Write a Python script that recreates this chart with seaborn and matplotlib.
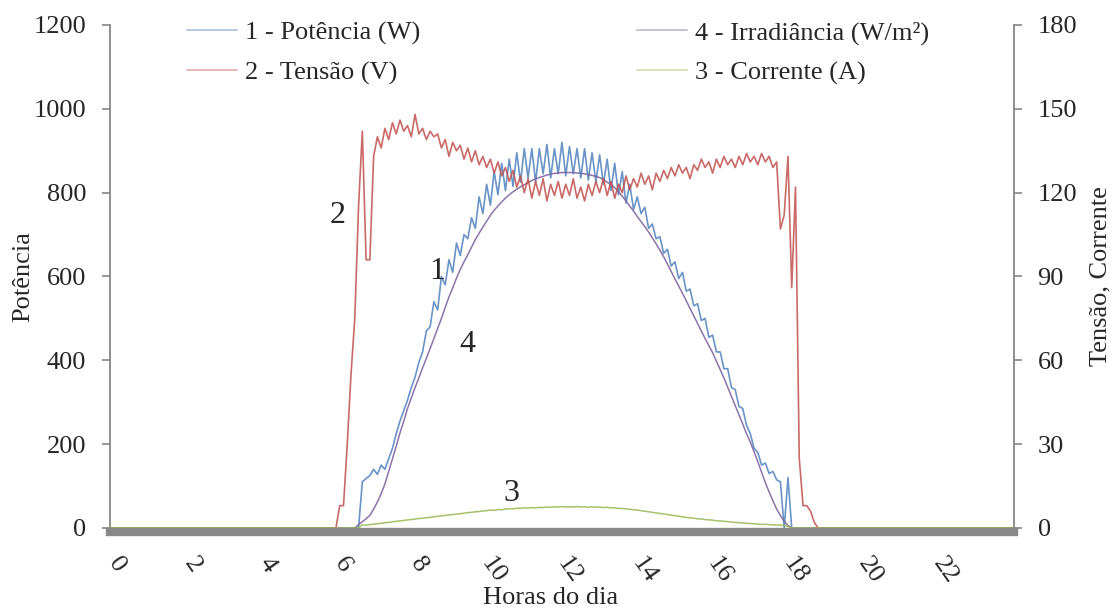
import numpy as np
import pandas as pd
import seaborn as sns
import matplotlib
matplotlib.use('Agg')
from matplotlib import pyplot as plt
from matplotlib.lines import Line2D
import matplotlib.transforms as mtransforms

# sampling instants (6 h to 19 h, every 6 min); the night is zero
hours = np.round(np.arange(6.0, 19.01, 0.1), 1)

# 1 - power (W)
potencia = [
    0, 0, 0, 0, 0, 0, 0, 110, 118, 125,
    140, 128, 150, 140, 165, 190, 225, 255, 280, 305,
    335, 360, 395, 420, 470, 480, 540, 520, 600, 580,
    640, 610, 680, 650, 700, 690, 740, 715, 790, 750,
    820, 770, 850, 795, 870, 805, 880, 815, 895, 825,
    905, 835, 905, 825, 905, 845, 915, 835, 905, 845,
    920, 840, 910, 845, 905, 835, 905, 830, 895, 825,
    890, 820, 880, 805, 870, 795, 850, 775, 820, 760,
    790, 750, 765, 715, 725, 690, 695, 655, 665, 625,
    635, 595, 610, 565, 570, 530, 535, 495, 500, 455,
    460, 420, 420, 380, 380, 335, 330, 290, 285, 245,
    225, 190, 180, 150, 155, 130, 135, 115, 110, 0,
    120, 0, 0, 0, 0, 0, 0, 0, 0, 0,
    0]

# 2 - voltage (V)
tensao = [
    0, 8, 8, 30, 55, 75, 115, 142, 96, 96,
    133, 140, 136, 143, 139, 145, 141, 146, 142, 144,
    140, 148, 141, 143, 139, 142, 140, 141, 136, 139,
    133, 138, 135, 137, 132, 136, 131, 135, 130, 133,
    129, 132, 127, 131, 126, 129, 124, 128, 122, 126,
    120, 125, 118, 124, 119, 125, 117, 123, 119, 124,
    118, 123, 119, 125, 118, 122, 117, 123, 119, 124,
    120, 125, 119, 124, 118, 123, 120, 126, 121, 125,
    122, 127, 123, 126, 121, 127, 124, 128, 125, 129,
    126, 130, 127, 129, 125, 130, 128, 132, 129, 131,
    127, 132, 129, 133, 130, 132, 129, 133, 130, 134,
    131, 133, 130, 134, 131, 133, 129, 131, 107, 112,
    133, 86, 122, 25, 8, 8, 6, 2, 0, 0,
    0]

# 3 - current (A)
corrente = [
    0, 0, 0, 0, 0, 0, 0, 1.1, 1.0, 1.2,
    1.4, 1.5, 1.7, 1.9, 2.0, 2.2, 2.4, 2.5, 2.7, 2.9,
    3.0, 3.2, 3.4, 3.5, 3.7, 3.8, 4.0, 4.2, 4.3, 4.5,
    4.7, 4.8, 5.0, 5.1, 5.3, 5.5, 5.6, 5.8, 5.9, 6.1,
    6.2, 6.4, 6.3, 6.6, 6.5, 6.8, 6.9, 6.8, 7.1, 7.0,
    7.2, 7.1, 7.3, 7.2, 7.4, 7.3, 7.5, 7.4, 7.6, 7.5,
    7.7, 7.5, 7.6, 7.5, 7.7, 7.5, 7.6, 7.4, 7.6, 7.4,
    7.5, 7.3, 7.4, 7.2, 7.2, 7.0, 7.0, 6.8, 6.7, 6.5,
    6.4, 6.2, 6.0, 5.8, 5.6, 5.4, 5.2, 5.0, 4.8, 4.6,
    4.4, 4.2, 4.0, 3.8, 3.6, 3.5, 3.3, 3.2, 3.0, 2.9,
    2.8, 2.6, 2.5, 2.4, 2.3, 2.1, 2.0, 1.9, 1.8, 1.7,
    1.6, 1.5, 1.4, 1.3, 1.3, 1.2, 1.1, 1.1, 1.0, 0.9,
    0.5, 0, 0, 0, 0, 0, 0, 0, 0, 0,
    0]

# 4 - irradiance (W/m2)
irradiancia = [
    0, 0, 0, 0, 0, 0, 8, 15, 22, 30,
    45, 62, 82, 105, 135, 165, 195, 227, 255, 285,
    310, 335, 358, 382, 405, 428, 452, 476, 500, 526,
    551, 573, 596, 617, 635, 652, 670, 688, 703, 718,
    732, 746, 758, 768, 778, 787, 795, 802, 808, 814,
    819, 824, 829, 833, 836, 839, 842, 844, 846, 847,
    848, 848, 848, 848, 847, 846, 845, 843, 841, 839,
    836, 831, 825, 820, 812, 802, 792, 780, 768, 756,
    743, 731, 719, 706, 692, 678, 663, 647, 630, 612,
    594, 577, 560, 542, 524, 506, 488, 470, 452, 435,
    418, 398, 378, 358, 336, 314, 292, 270, 248, 225,
    205, 182, 158, 133, 108, 86, 65, 45, 30, 16,
    6, 0, 0, 0, 0, 0, 0, 0, 0, 0,
    0]

labels = ['1 - Potência (W)', '2 - Tensão (V)', '3 - Corrente (A)', '4 - Irradiância (W/m²)']
colors = ['#4f81bd', '#c0504d', '#9bbb59', '#8064a2']
x_ticks = list(range(0, 24, 2))

df = pd.DataFrame({
    'hora': np.concatenate([[0.0], hours, [24.0]]),
    'potencia': [0] + potencia + [0],
    'tensao': [0] + tensao + [0],
    'corrente': [0] + corrente + [0],
    'irradiancia': [0] + irradiancia + [0],
})

sns.set_style('white')
plt.rcParams['font.family'] = ['Liberation Serif', 'DejaVu Serif']
FS = 19
GRAY = '#868686'

fig = plt.figure(figsize=(11.14, 6.08), dpi=100)
ax = fig.add_axes([0.0987, 0.1316, 0.8115, 0.8273])
ax2 = ax.twinx()

sns.lineplot(data=df, x='hora', y='potencia', ax=ax, color=colors[0], lw=1.2,
             alpha=0.85, errorbar=None, legend=False)
sns.lineplot(data=df, x='hora', y='irradiancia', ax=ax, color=colors[3], lw=1.1,
             alpha=0.9, errorbar=None, legend=False)
sns.lineplot(data=df, x='hora', y='tensao', ax=ax2, color=colors[1], lw=1.2,
             alpha=0.85, errorbar=None, legend=False)
sns.lineplot(data=df, x='hora', y='corrente', ax=ax2, color=colors[2], lw=1.1,
             alpha=0.9, errorbar=None, legend=False)

ax.set_xlim(0, 24)
ax.set_ylim(0, 1200)
ax2.set_ylim(0, 180)
ax.set_yticks(range(0, 1201, 200))
ax2.set_yticks(range(0, 181, 30))
ax.set_xticks(x_ticks)
ax.set_xticklabels([str(t) for t in x_ticks])

# spines
for s in ['top', 'right']:
    ax.spines[s].set_visible(False)
for s in ['top', 'left', 'bottom']:
    ax2.spines[s].set_visible(False)
ax.spines['left'].set_color(GRAY)
ax.spines['left'].set_linewidth(1.3)
ax2.spines['right'].set_color(GRAY)
ax2.spines['right'].set_linewidth(1.3)
ax.spines['bottom'].set_color('#888888')
ax.spines['bottom'].set_linewidth(6)
ax.spines['bottom'].set_position(('outward', 3))

ax.tick_params(axis='y', length=6, width=1.2, color=GRAY, pad=11, labelsize=FS)
ax2.tick_params(axis='y', length=6, width=1.2, color=GRAY, pad=11, labelsize=FS)
ax.tick_params(axis='x', length=0, pad=15, labelsize=FS)
offset = mtransforms.ScaledTranslation(0.07, 0, fig.dpi_scale_trans)
for lab in ax.get_xticklabels():
    lab.set_rotation(-55)
    lab.set_ha('center')
    lab.set_va('top')
    lab.set_transform(lab.get_transform() + offset)

ax.set_xlabel('Horas do dia', fontsize=FS)
ax.xaxis.set_label_coords(0.487, -0.117)
ax.set_ylabel('Potência', fontsize=FS)
ax.yaxis.set_label_coords(-0.084, 0.5)
ax2.set_ylabel('Tensão, Corrente', fontsize=FS)
ax2.yaxis.set_label_coords(1.084, 0.5)

# curve numbers
ax.text(6.05, 745, '2', fontsize=23, ha='center', va='center')
ax.text(8.68, 611, '1', fontsize=23, ha='center', va='center')
ax.text(9.5, 437, '4', fontsize=23, ha='center', va='center')
ax.text(10.67, 83, '3', fontsize=23, ha='center', va='center')

handles = [Line2D([], [], color=c, lw=1.3, alpha=0.45) for c in colors]
order = [0, 1, 3, 2]
ax2.legend([handles[i] for i in order], [labels[i] for i in order], ncol=2,
           loc='upper left', bbox_to_anchor=(0.0852, 1.008), frameon=False,
           fontsize=FS, borderpad=0, borderaxespad=0, handlelength=1.9,
           handletextpad=0.3, columnspacing=8.2, labelspacing=0.62)

fig.savefig('out.png', dpi=100)
